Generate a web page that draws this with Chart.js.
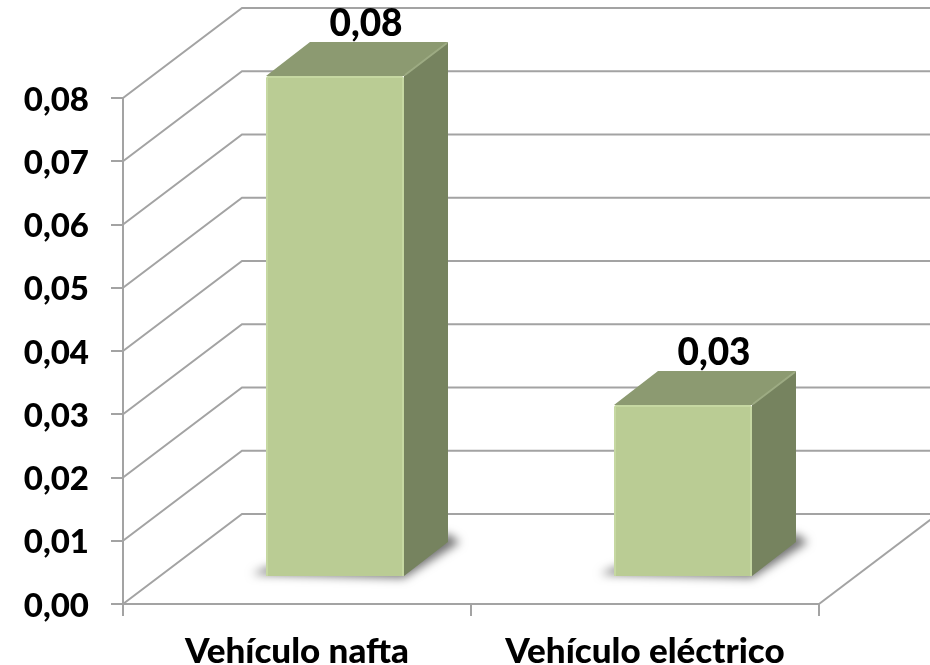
<!DOCTYPE html>
<html>
<head>
<meta charset="utf-8">
<title>Vehículo nafta / eléctrico</title>
<script src="https://cdn.jsdelivr.net/npm/chart.js@4"></script>
<style>
  html, body { margin: 0; padding: 0; background: #fff; overflow: hidden; }
  canvas { display: block; }
</style>
</head>
<body>
<canvas id="chart" width="930" height="665"></canvas>
<script>
const categories = ['Vehículo nafta', 'Vehículo eléctrico'];
const values = [0.0792, 0.0272];
const tickStep = 0.01;
const axisMax = 0.08;

// fake 3D: wall sits behind the front plane, bars sit part way into the floor
const wall = { dx: 119, dy: -90 };
const barShift = { dx: 38, dy: -27 };
const barDepth = { dx: 44, dy: -34 };
const gridColor = '#a3a3a3';
const topColor = '#8c9a71';
const sideColor = '#76835f';
const fontName = 'Lato, "Open Sans", sans-serif';

function comma(v) {
    return v.toFixed(2).replace('.', ',');
}

const wallPlugin = {
    id: 'wall',
    beforeDatasetsDraw(chart) {
        const ctx = chart.ctx;
        const y = chart.scales.y;
        const area = chart.chartArea;
        ctx.save();
        ctx.strokeStyle = gridColor;
        ctx.lineWidth = 2;
        y.ticks.forEach(t => {
            const py = y.getPixelForValue(t.value);
            ctx.beginPath();
            ctx.moveTo(area.left, py);
            ctx.lineTo(area.left + wall.dx, py + wall.dy);
            ctx.lineTo(area.right + wall.dx, py + wall.dy);
            ctx.stroke();
        });
        // floor right edge
        ctx.beginPath();
        ctx.moveTo(area.right, area.bottom);
        ctx.lineTo(area.right + wall.dx, area.bottom + wall.dy);
        ctx.stroke();
        ctx.restore();

        // labels go under the bars, the bar top cuts the comma like in the original
        const meta = chart.getDatasetMeta(0);
        ctx.save();
        ctx.fillStyle = '#000';
        ctx.font = '900 37px ' + fontName;
        ctx.textAlign = 'center';
        ctx.textBaseline = 'middle';
        meta.data.forEach((bar, i) => {
            ctx.fillText(comma(values[i]), bar.x + barShift.dx + 31, bar.y + barShift.dy - 52);
        });
        ctx.restore();
    },
    beforeDatasetDraw(chart, args) {
        const ctx = chart.ctx;
        ctx.save();
        ctx.translate(barShift.dx, barShift.dy);
        args.meta.data.forEach(bar => {
            const l = bar.x - bar.width / 2;
            const r = bar.x + bar.width / 2;
            const d = barDepth;

            // floor shadow, shape itself is drawn off canvas so only the blur lands here
            const off = 2000;
            ctx.save();
            ctx.shadowColor = 'rgba(0,0,0,0.55)';
            ctx.shadowBlur = 10;
            ctx.shadowOffsetX = off;
            ctx.fillStyle = '#000';
            ctx.beginPath();
            ctx.moveTo(l - 14 - off, bar.base - 2);
            ctx.lineTo(r - off, bar.base + 2);
            ctx.lineTo(r + d.dx + 12 - off, bar.base + d.dy);
            ctx.lineTo(r + d.dx - off, bar.base + d.dy - 8);
            ctx.lineTo(l - off, bar.base - 8);
            ctx.closePath();
            ctx.fill();
            ctx.restore();

            // side face
            ctx.fillStyle = sideColor;
            ctx.beginPath();
            ctx.moveTo(r, bar.y);
            ctx.lineTo(r + d.dx, bar.y + d.dy);
            ctx.lineTo(r + d.dx, bar.base + d.dy);
            ctx.lineTo(r, bar.base);
            ctx.closePath();
            ctx.fill();

            // top face
            ctx.fillStyle = topColor;
            ctx.beginPath();
            ctx.moveTo(l, bar.y);
            ctx.lineTo(l + d.dx, bar.y + d.dy);
            ctx.lineTo(r + d.dx, bar.y + d.dy);
            ctx.lineTo(r, bar.y);
            ctx.closePath();
            ctx.fill();

            // lighter bevel on the far edge of the top
            ctx.strokeStyle = '#9dab83';
            ctx.lineWidth = 2;
            ctx.beginPath();
            ctx.moveTo(r + 1, bar.y - 1);
            ctx.lineTo(r + d.dx - 1, bar.y + d.dy + 1);
            ctx.stroke();
        });
    },
    afterDatasetDraw(chart) {
        chart.ctx.restore();
    }
};

new Chart(document.getElementById('chart'), {
    type: 'bar',
    data: {
        labels: categories,
        datasets: [{
            data: values,
            backgroundColor: '#bacc94',
            borderColor: '#c6d8a2',
            borderWidth: 2,
            borderRadius: 2,
            barPercentage: 138 / 348,
            categoryPercentage: 1,
            clip: false
        }]
    },
    options: {
        responsive: false,
        animation: false,
        devicePixelRatio: 1,
        layout: { padding: { top: 98, right: 111, left: 0, bottom: 0 } },
        plugins: { legend: { display: false }, tooltip: { enabled: false } },
        scales: {
            x: {
                afterFit(scale) { scale.height = 61; },
                grid: {
                    offset: true,
                    drawOnChartArea: false,
                    color: gridColor,
                    lineWidth: 2,
                    tickLength: 12
                },
                border: { color: gridColor, width: 2 },
                ticks: {
                    color: '#000',
                    font: { family: fontName, size: 35, weight: '900' },
                    padding: 15,
                    maxRotation: 0,
                    autoSkip: false
                }
            },
            y: {
                min: 0,
                max: axisMax,
                afterFit(scale) { scale.width = 123; },
                grid: {
                    drawOnChartArea: false,
                    color: gridColor,
                    lineWidth: 2,
                    tickLength: 12
                },
                border: { color: gridColor, width: 2 },
                ticks: {
                    stepSize: tickStep,
                    color: '#000',
                    font: { family: fontName, size: 33, weight: '900' },
                    padding: 22,
                    labelOffset: 2,
                    callback: v => comma(v)
                }
            }
        }
    },
    plugins: [wallPlugin]
});
</script>
</body>
</html>
